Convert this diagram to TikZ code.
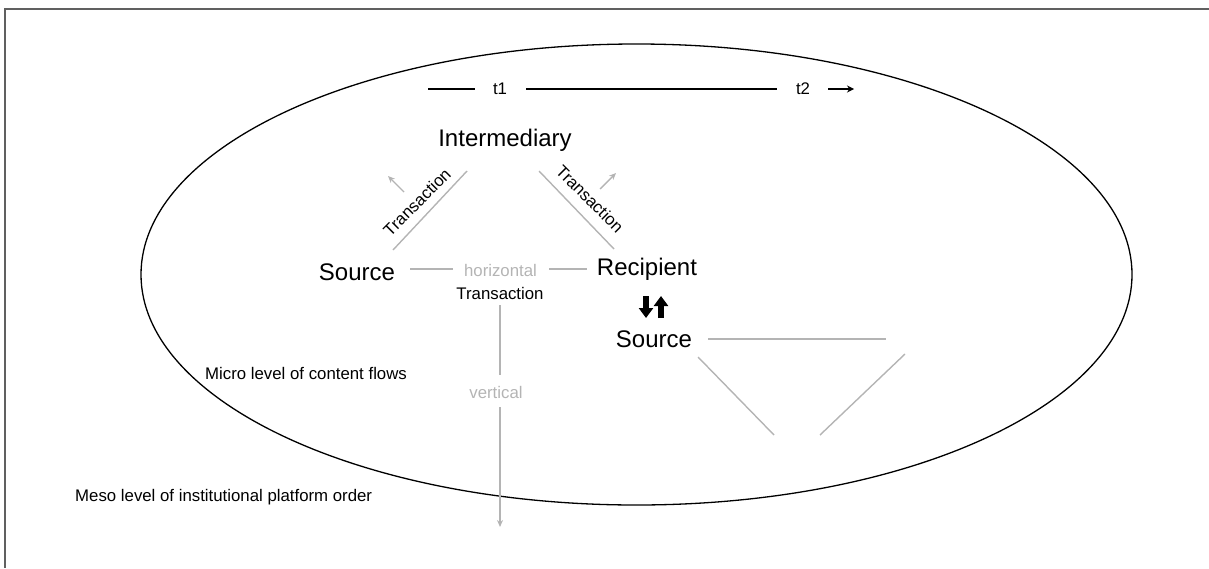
\documentclass[tikz,border=0pt]{standalone}
\usepackage{fontspec}
\setmainfont{Liberation Sans}
\usetikzlibrary{arrows.meta}
\definecolor{lightg}{HTML}{B4B4B4}
\definecolor{frameg}{HTML}{606060}
\tikzset{
  big/.style={font=\fontsize{24}{28}\selectfont, inner sep=0pt},
  small/.style={font=\fontsize{16.8}{20}\selectfont, inner sep=0pt},
  glabel/.style={small, text=lightg},
  gline/.style={draw=lightg, line width=1.4pt},
  garrow/.style={gline, -{Stealth[length=7pt,width=6pt]}},
  bigarrow/.style={line width=5.5pt, -{Triangle[length=10pt,width=14pt]}}
}
\begin{document}
\begin{tikzpicture}[x=1pt,y=-1pt]
\useasboundingbox (0,0) rectangle (1209,568);
% frame
\draw[frameg, line width=2pt] (1209,9) -- (5,9) -- (5,568);
% ellipse
\draw[black, line width=1.3pt] (636.5,274.5) ellipse [x radius=495.5, y radius=230.5];
% timeline
\node[small] (t1) at (500,89) {t1};
\node[small] (t2) at (803,89) {t2};
\coordinate (ta) at (428,89);
\coordinate (tb) at (475,89);
\coordinate (tc) at (526,89);
\coordinate (td) at (777,89);
\coordinate (te) at (828,89);
\coordinate (tf) at (854,89);
\draw[line width=1.2pt] (ta) -- (tb);
\draw[line width=1.2pt] (tc) -- (td);
\draw[line width=1.2pt,-{Stealth[length=7pt,width=7pt]}] (te) -- (tf);
% main nodes
\node[big] (inter) at (505,140) {Intermediary};
\node[big] (src) at (357,272) {Source};
\node[big] (rec) at (647,269) {Recipient};
\node[big] (src2) at (654,339) {Source};
% triangle lines
\coordinate (l1) at (393,250);
\coordinate (l2) at (467,171);
\coordinate (r1) at (539,171);
\coordinate (r2) at (614,249);
\draw[gline] (l1) -- (l2);
\draw[gline] (r1) -- (r2);
\node[small, rotate=45] (trl) at (417,202) {Transaction};
\node[small, rotate=-45] (trr) at (590,199) {Transaction};
\coordinate (al1) at (404,192);
\coordinate (al2) at (388,176);
\coordinate (ar1) at (600,189);
\coordinate (ar2) at (616,173);
\draw[garrow] (al1) -- (al2);
\draw[garrow] (ar1) -- (ar2);
% horizontal
\node[glabel] (hor) at (500.5,270) {horizontal};
\node[small] (trh) at (500,293) {Transaction};
\coordinate (h1) at (410,269);
\coordinate (h2) at (453,269);
\coordinate (h3) at (549,269);
\coordinate (h4) at (587,269);
\draw[gline] (h1) -- (h2);
\draw[gline] (h3) -- (h4);
% vertical
\node[glabel] (vert) at (496,392) {vertical};
\coordinate (v1) at (500,305);
\coordinate (v2) at (500,375);
\coordinate (v3) at (500,407);
\coordinate (v4) at (500,527);
\draw[gline] (v1) -- (v2);
\draw[garrow] (v3) -- (v4);
% big arrows
\coordinate (d1) at (646,296);
\coordinate (d2) at (646,318);
\coordinate (u1) at (661,318);
\coordinate (u2) at (661,296);
\draw[bigarrow] (d1) -- (d2);
\draw[bigarrow] (u1) -- (u2);
% second triangle
\coordinate (s1) at (708,339);
\coordinate (s2) at (886,339);
\coordinate (s3) at (698,357);
\coordinate (s4) at (774,435);
\coordinate (s5) at (905,354);
\coordinate (s6) at (820,435);
\draw[gline] (s1) -- (s2);
\draw[gline] (s3) -- (s4);
\draw[gline] (s5) -- (s6);
% level labels
\node[small, anchor=west] (micro) at (205,373) {Micro level of content flows};
\node[small, anchor=west] (meso) at (75,497) {Meso level of institutional platform order};
\end{tikzpicture}
\end{document}
